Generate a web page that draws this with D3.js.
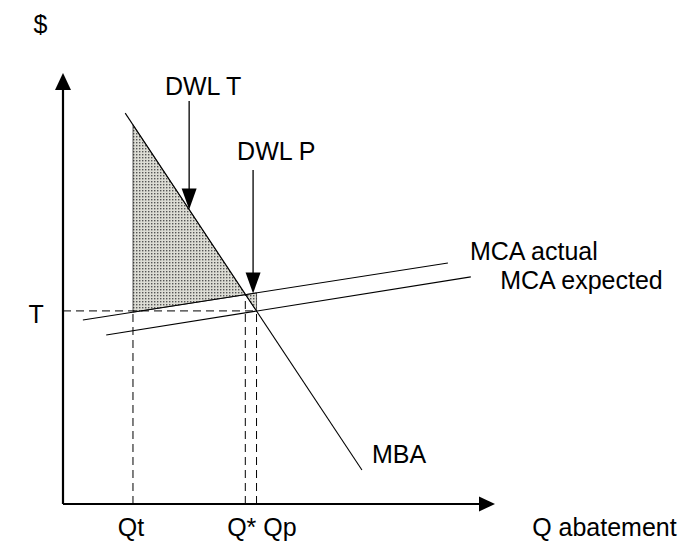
<!DOCTYPE html>
<html>
<head>
<meta charset="utf-8">
<script src="https://cdn.jsdelivr.net/npm/d3@7"></script>
<style>
  body { margin: 0; background: #fff; }
  text { font-family: "Liberation Sans", Arial, sans-serif; font-size: 25px; fill: #000; }
</style>
</head>
<body>
<svg id="chart" width="689" height="544"></svg>
<script>
//
// Data (Q on x, $ on y, both in 0..10 units)
//

// curves as [q, p] end points
const mba = [[1.44, 9.07], [6.92, 0.79]];
const mcaActual = [[0.46, 4.27], [8.91, 5.59]];
const mcaExpected = [[1.0, 3.92], [9.44, 5.27]];

// key quantities and the tax
const qt = 1.62;
const qstar = 4.22;
const qp = 4.48;
const tax = 4.48;

// arrows pointing at the two dead weight losses: [q, p of arrow start]
const arrowT = [2.92, 9.35];
const arrowP = [4.4, 7.75];

const labels = [
  { text: "$", q: -0.68, p: 10.93 },
  { text: "DWL T", q: 2.36, p: 9.49 },
  { text: "DWL P", q: 4.03, p: 7.98 },
  { text: "MCA actual", q: 9.42, p: 5.66 },
  { text: "MCA expected", q: 10.12, p: 5.0 },
  { text: "MBA", q: 7.15, p: 0.95 },
  { text: "T", q: -0.8, p: 4.2 },
];
const qLabels = [
  { text: "Qt", q: 1.27 },
  { text: "Q* Qp", q: 3.8 },
  { text: "Q abatement", q: 10.86 },
];

//
// Chart
//

const svg = d3.select("#chart");
const x = d3.scaleLinear().domain([0, 10]).range([63, 495]);
const y = d3.scaleLinear().domain([0, 10]).range([504, 73]);

// value of a straight line at q
function at(line, q) {
  const [[q0, p0], [q1, p1]] = line;
  return p0 + ((p1 - p0) * (q - q0)) / (q1 - q0);
}
const pt = (d) => [x(d[0]), y(d[1])];

// dotted fill like the original
const pat = svg
  .append("defs")
  .append("pattern")
  .attr("id", "dots")
  .attr("width", 3)
  .attr("height", 3)
  .attr("patternUnits", "userSpaceOnUse");
pat.append("rect").attr("width", 3).attr("height", 3).attr("fill", "#dcdcd4");
pat.append("rect").attr("x", 1).attr("y", 1).attr("width", 1.4).attr("height", 1.4).attr("fill", "#555");

const dwlT = [
  [qt, at(mba, qt)],
  [qt, at(mcaActual, qt)],
  [qstar, at(mcaActual, qstar)],
];
const dwlP = [
  [qstar, at(mcaActual, qstar)],
  [qp, at(mcaActual, qp)],
  [qp, at(mcaExpected, qp)],
];
svg
  .selectAll("polygon.dwl")
  .data([dwlT, dwlP])
  .enter()
  .append("polygon")
  .attr("class", "dwl")
  .attr("points", (d) => d.map(pt).join(" "))
  .attr("fill", "url(#dots)")
  .attr("stroke", "#000")
  .attr("stroke-width", 0.6);

// dashed guides
const guides = [
  [[0, tax], [qp, tax]],
  [[qt, 0], [qt, at(mcaActual, qt)]],
  [[qstar, 0], [qstar, at(mcaActual, qstar)]],
  [[qp, 0], [qp, at(mcaExpected, qp)]],
];
svg
  .selectAll("line.guide")
  .data(guides)
  .enter()
  .append("line")
  .attr("class", "guide")
  .attr("x1", (d) => x(d[0][0]))
  .attr("y1", (d) => y(d[0][1]))
  .attr("x2", (d) => x(d[1][0]))
  .attr("y2", (d) => y(d[1][1]))
  .attr("stroke", "#000")
  .attr("stroke-width", 1)
  .attr("stroke-dasharray", "8,5");

// curves
svg
  .selectAll("line.curve")
  .data([mba, mcaActual, mcaExpected])
  .enter()
  .append("line")
  .attr("class", "curve")
  .attr("x1", (d) => x(d[0][0]))
  .attr("y1", (d) => y(d[0][1]))
  .attr("x2", (d) => x(d[1][0]))
  .attr("y2", (d) => y(d[1][1]))
  .attr("stroke", "#000")
  .attr("stroke-width", 1.1);

// axes with arrow heads
svg.append("line")
  .attr("x1", x(0)).attr("y1", y(0)).attr("x2", x(10) - 10).attr("y2", y(0))
  .attr("stroke", "#000").attr("stroke-width", 2.2);
svg.append("line")
  .attr("x1", x(0)).attr("y1", y(0)).attr("x2", x(0)).attr("y2", y(10) + 10)
  .attr("stroke", "#000").attr("stroke-width", 2.2);
svg.append("polygon")
  .attr("points", [[x(10), y(0)], [x(10) - 16, y(0) - 7.5], [x(10) - 16, y(0) + 7.5]].join(" "));
svg.append("polygon")
  .attr("points", [[x(0), y(10)], [x(0) - 8, y(10) + 17], [x(0) + 8, y(10) + 17]].join(" "));

// pointer arrows
const pointers = [
  { from: arrowT, to: [arrowT[0], at(mba, arrowT[0])] },
  { from: arrowP, to: [arrowP[0], at(mcaActual, arrowP[0])] },
];
pointers.forEach((d) => {
  const tx = x(d.to[0]), ty = y(d.to[1]);
  svg.append("line")
    .attr("x1", x(d.from[0])).attr("y1", y(d.from[1]))
    .attr("x2", tx).attr("y2", ty - 10)
    .attr("stroke", "#000").attr("stroke-width", 1.3);
  svg.append("polygon")
    .attr("points", [[tx, ty], [tx - 7.5, ty - 21], [tx + 7.5, ty - 21]].join(" "));
});

// texts
svg.selectAll("text.lbl")
  .data(labels)
  .enter()
  .append("text")
  .attr("class", "lbl")
  .attr("x", (d) => x(d.q))
  .attr("y", (d) => y(d.p))
  .text((d) => d.text);

svg.selectAll("text.qlbl")
  .data(qLabels)
  .enter()
  .append("text")
  .attr("class", "qlbl")
  .attr("x", (d) => x(d.q))
  .attr("y", 536)
  .text((d) => d.text);
</script>
</body>
</html>
